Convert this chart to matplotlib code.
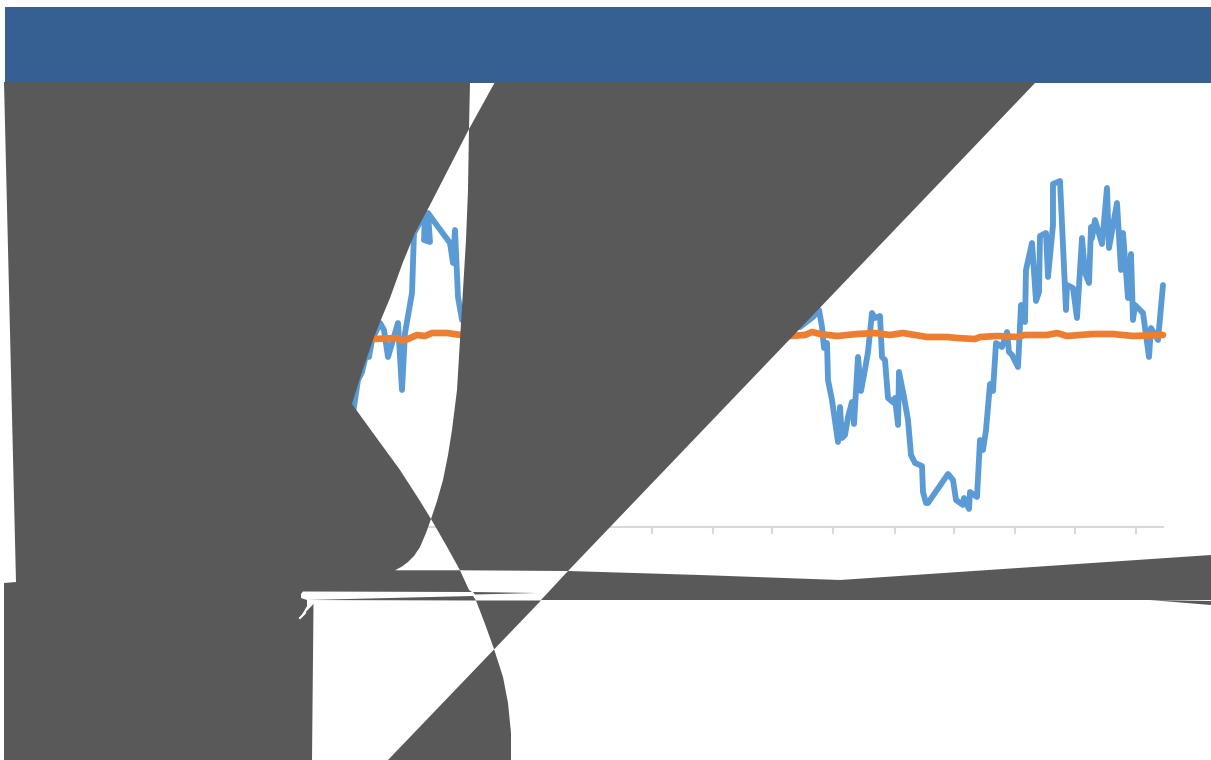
import matplotlib
matplotlib.use("Agg")
import matplotlib.pyplot as plt

W = 1211
H = 760

# series (pixel positions, the hidden part runs behind the grey)
blue_x = [352, 355, 358, 362, 366, 369, 372, 380, 384, 388, 398, 402, 405, 412, 414, 425, 424, 430, 428, 433, 450, 453, 455, 458, 462,
          800, 813, 819, 822, 824, 827, 828, 832, 838, 840, 842, 845, 848, 852, 854, 858, 861, 864, 868, 872, 875, 880, 882, 885,
          888, 894, 895, 898, 899, 904, 908, 911, 915, 922, 923, 926, 928, 948, 953, 956, 963, 964, 969, 970, 977, 980, 983, 986,
          990, 993, 996, 1002, 1007, 1009, 1012, 1018, 1021, 1025, 1026, 1032, 1036, 1039, 1040, 1046, 1048, 1053, 1053, 1060,
          1066, 1067, 1073, 1077, 1082, 1085, 1089, 1091, 1092, 1095, 1102, 1107, 1109, 1117, 1121, 1123, 1128, 1131, 1133, 1135, 1143,
          1149, 1151, 1158, 1163]
blue_y = [420, 400, 380, 372, 355, 357, 340, 323, 330, 357, 323, 390, 333, 293, 233, 213, 240, 242, 213, 220, 243, 263, 230, 297, 320,
          327, 317, 310, 327, 348, 343, 380, 400, 442, 407, 438, 435, 417, 402, 424, 357, 391, 375, 352, 313, 318, 316, 357, 360,
          398, 403, 398, 425, 372, 397, 420, 455, 463, 466, 492, 503, 503, 474, 480, 500, 505, 498, 509, 492, 497, 440, 450, 430,
          384, 391, 343, 347, 332, 352, 355, 367, 305, 322, 270, 243, 301, 292, 236, 233, 277, 225, 184, 181,
          310, 285, 288, 318, 238, 273, 283, 227, 238, 220, 244, 188, 248, 203, 270, 233, 298, 254, 320, 305, 313,
          357, 328, 340, 285]
orange_x = [350, 373, 398, 402, 408, 417, 425, 432, 447, 461, 790, 805, 812, 820, 837, 857, 875, 890, 903, 927, 947, 957, 975,
            980, 997, 1017, 1025, 1047, 1057, 1067, 1093, 1113, 1133, 1163]
orange_y = [339, 339, 338, 341, 339, 335, 336, 333, 333, 335, 336, 335, 332, 334, 336, 334, 333, 335, 333, 337, 337, 338, 339,
            337, 336, 337, 335, 335, 333, 336, 334, 334, 336, 335]
tick_x = [591, 652, 713, 772, 833, 895, 954, 1015, 1075, 1136]

# edges of the grey shapes, the three curves cross at the shared points
cross_ab = (469, 129)
cross_ac = (431, 519)
curve_a1 = [(470, 82), cross_ab]
curve_a2 = [(468, 190), (466, 240), (463, 290), (460, 340), (457, 390), (452, 430), (448, 455), (443, 480), (437, 501), cross_ac]
curve_a3 = [(426, 533), (420, 547), (414, 556), (408, 562), (402, 566.5), (395, 570.3)]
curve_b1 = [(495, 82), cross_ab]
curve_b2 = [(430, 205), (415, 233), (403, 262), (390, 298), (380, 322), (373, 340), (362, 372), (352, 404)]
curve_c1 = [(373, 433), (400, 470), (420, 501), cross_ac]
curve_c2 = [(446, 545), (460, 570.3)]
curve_c3 = [(485, 624), (494, 649), (503, 677), (508, 703), (511, 733), (511, 760)]

grey = "#595959"
blue = "#5B9BD5"
orange = "#ED7D31"
header = "#376092"
axis_grey = "#D9D9D9"

fig = plt.figure(figsize=(W / 100, H / 100), dpi=100, facecolor="white")

# line chart, sits under the grey
ax = fig.add_axes([300 / W, (H - 527) / H, 863 / W, 527 / H])
ax.set_xlim(300, 1163)
ax.set_ylim(527, 0)
ax.patch.set_visible(False)
for s in ["top", "left", "right"]:
    ax.spines[s].set_visible(False)
ax.spines["bottom"].set_color(axis_grey)
ax.spines["bottom"].set_linewidth(1.5)
ax.set_yticks([])
ax.set_xticks(tick_x)
ax.set_xticklabels([])
ax.tick_params(axis="x", length=5, width=1.5, color=axis_grey)
ax.plot(blue_x, blue_y, color=blue, lw=4.2, solid_joinstyle="round", solid_capstyle="round", clip_on=False)
ax.plot(orange_x, orange_y, color=orange, lw=4.8, solid_joinstyle="round", solid_capstyle="round", clip_on=False)

# broken shapes on top
top = fig.add_axes([0, 0, 1, 1], zorder=5)
top.set_xlim(0, W)
top.set_ylim(H, 0)
top.axis("off")

top.fill([5, W, W, 5], [7, 7, 83, 83], color=header, lw=0)


def shape(points, c=grey):
    top.fill([p[0] for p in points], [p[1] for p in points], color=c, lw=0)


# left blob with the lower left block
shape([(4, 82)] + curve_a1 + curve_b2 + curve_c1 + curve_a3
      + [(460, 570.3), (469, 590), (472, 592), (303, 591.5), (301, 594), (301, 598), (307, 600), (307, 606),
         (300, 618), (313.5, 604), (312, 760), (4, 760), (4, 583), (16, 582)])
# wedge in the middle
shape(curve_b1 + curve_a2 + curve_c2 + [(568, 571), (1036, 82)])
# diagonal bow below the band
shape([(476, 600.5)] + curve_c3 + [(388, 760), (541, 600.5)])
# band to the right edge
shape([(568, 571), (700, 575), (840, 580), (W, 555), (W, 600), (541, 600)])
# slivers around the white band
shape([(307, 600), (473, 596), (476, 600.5)])
shape([(473, 592), (537, 593), (475, 594.5)])
shape([(1150, 600), (W, 601), (W, 605)])
# white dash at the corner
top.plot([300, 305], [618, 613], color="white", lw=1.5)

fig.savefig("out.png", dpi=100)
